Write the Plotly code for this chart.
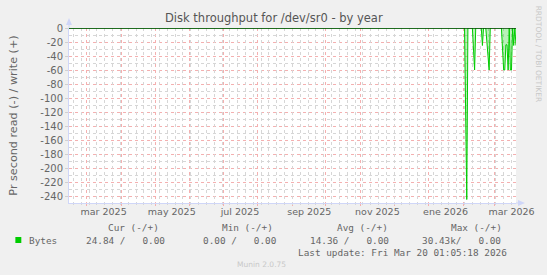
import plotly.graph_objects as go

W, H = 547, 275
L, R, T, B = 67, 517, 28, 203

x_start = "2025-02-13 01:05"
x_end = "2026-03-20 01:05"

# read (-) series, bytes per second (shown negative)
read_dates = [
    "2025-02-13", "2026-02-02", "2026-02-04", "2026-02-05",
    "2026-02-09", "2026-02-11", "2026-02-12",
    "2026-02-17", "2026-02-18", "2026-02-19",
    "2026-02-21", "2026-02-24", "2026-02-25",
    "2026-03-07", "2026-03-09", "2026-03-10", "2026-03-11", "2026-03-12",
    "2026-03-13", "2026-03-14", "2026-03-15", "2026-03-16", "2026-03-17",
    "2026-03-18", "2026-03-19", "2026-03-20 01:05",
]
read_values = [
    0, 0, -245, 0,
    0, -60, 0,
    0, -25, 0,
    0, -60, 0,
    0, -60, -60, -24, -24,
    -60, 0, -60, -60, 0,
    -25, 0, -25,
]
# write (+) series
write_dates = ["2025-02-13 01:05", "2026-03-20 01:05"]
write_values = [0, 0]

ytick_vals = [0, -20, -40, -60, -80, -100, -120, -140, -160, -180, -200, -220, -240]
ytick_text = [str(v) for v in ytick_vals]
xlabel_dates = ["2025-03-16", "2025-05-16", "2025-07-16", "2025-09-16",
                "2025-11-16", "2026-01-16", "2026-03-16"]
xlabel_text = ["mar 2025", "may 2025", "jul 2025", "sep 2025",
               "nov 2025", "ene 2026", "mar 2026"]

legend_headers = ["Cur (-/+)", "Min (-/+)", "Avg (-/+)", "Max (-/+)"]
legend_values = ["24.84 /   0.00", "0.00 /   0.00", "14.36 /   0.00", "30.43k/   0.00"]
series_name = "Bytes"
last_update = "Last update: Fri Mar 20 01:05:18 2026"

GREEN = "#00CC00"
FONT = "#666666"
AXIS = "#CFD6F8"
MGRID = "#F4B0B0"
GRID = "#D6D6D6"
SANS = "DejaVu Sans"
MONO = "DejaVu Sans Mono"


def px(x):
    return (x - L) / (R - L)


def py(y):
    return (B - y) / (B - T)


fig = go.Figure()
fig.add_trace(go.Scatter(
    x=read_dates, y=read_values, mode="lines",
    line=dict(color=GREEN, width=1), fill="tozeroy",
    fillcolor="rgba(0,204,0,0.28)", hoverinfo="skip", showlegend=False))
fig.add_trace(go.Scatter(
    x=write_dates, y=write_values, mode="lines",
    line=dict(color=GREEN, width=1), hoverinfo="skip", showlegend=False))
# dummy trace for weekly grid axis
fig.add_trace(go.Scatter(x=[x_start, x_end], y=[None, None], xaxis="x2",
                         mode="lines", showlegend=False, hoverinfo="skip"))

fig.update_layout(
    width=W, height=H,
    margin=dict(l=L, r=W - R, t=T, b=H - B, pad=0),
    paper_bgcolor="#F0F0F0", plot_bgcolor="#FFFFFF",
    font=dict(family=SANS, color=FONT, size=9.5),
    xaxis=dict(
        type="date", range=[x_start, x_end],
        tickmode="array", tickvals=xlabel_dates, ticktext=xlabel_text,
        showgrid=False, ticks="", tickfont=dict(size=9.5, color=FONT),
        showline=True, linecolor=AXIS, linewidth=1, zeroline=False,
        minor=dict(dtick="M1", tick0="2025-03-01", showgrid=True,
                   gridcolor=MGRID, griddash="dot",
                   gridwidth=1, ticks="outside", ticklen=2,
                   tickcolor=MGRID),
    ),
    xaxis2=dict(
        type="date", range=[x_start, x_end], overlaying="x", anchor="y",
        dtick=7 * 86400000, tick0="2025-02-17",
        showgrid=True, gridcolor=GRID, griddash="dot", gridwidth=1,
        showticklabels=False, ticks="outside", ticklen=1, tickcolor=GRID,
        zeroline=False, showline=False,
    ),
    yaxis=dict(
        range=[-250, 0], tickmode="array", tickvals=ytick_vals, ticktext=ytick_text,
        showgrid=True, gridcolor=MGRID, griddash="dot", gridwidth=1,
        ticks="outside", ticklen=3, tickcolor="#D0D0D0",
        tickfont=dict(size=10, color=FONT),
        showline=True, linecolor=AXIS, linewidth=1, zeroline=False,
        minor=dict(dtick=10, tick0=0, showgrid=True, gridcolor=GRID,
                   griddash="dot", gridwidth=1),
        title=dict(text="Pr second read (-) / write (+)",
                   font=dict(size=11.2, color=FONT), standoff=20),
    ),
)

shapes = [
    # zero rule
    dict(type="line", xref="x domain", yref="y", x0=0, x1=1, y0=0, y1=0,
         line=dict(color="#000000", width=1), layer="above"),
    # axis extensions and arrows
    dict(type="line", xref="paper", yref="paper", x0=0, x1=0, y0=1, y1=py(22),
         line=dict(color=AXIS, width=1)),
    dict(type="path", xref="paper", yref="paper",
         path=f"M {px(64)},{py(25)} L {px(70)},{py(25)} L {px(67)},{py(18)} Z",
         fillcolor=AXIS, line=dict(color=AXIS, width=0)),
    dict(type="line", xref="paper", yref="paper", x0=1, x1=px(521), y0=0, y1=0,
         line=dict(color=AXIS, width=1)),
    dict(type="path", xref="paper", yref="paper",
         path=f"M {px(519)},{py(200)} L {px(519)},{py(206)} L {px(526)},{py(203)} Z",
         fillcolor=AXIS, line=dict(color=AXIS, width=0)),
    # legend colour box
    dict(type="rect", xref="paper", yref="paper",
         x0=px(13), x1=px(19), y0=py(243), y1=py(237),
         fillcolor=GREEN, line=dict(width=0)),
]
fig.update_layout(shapes=shapes)

ann = []
ann.append(dict(text="Disk throughput for /dev/sr0 - by year", x=px(273), y=py(18),
                xanchor="center", yanchor="middle",
                font=dict(family=SANS, size=11.5, color="#555555")))
ann.append(dict(text="RRDTOOL / TOBI OETIKER", x=px(540), y=py(4), textangle=90,
                xanchor="center", yanchor="top",
                font=dict(family=SANS, size=7.5, color="#C8C8C8")))
header_centers = [131.5, 246.5, 362, 477]
for t, cx in zip(legend_headers, header_centers):
    ann.append(dict(text=t.replace(" ", "\u00a0"), x=px(cx), y=py(227),
                    xanchor="center", yanchor="middle",
                    font=dict(family=MONO, size=9.4, color=FONT)))
ann.append(dict(text=series_name, x=px(25), y=py(240), xanchor="left", yanchor="middle",
                font=dict(family=MONO, size=9.4, color=FONT)))
value_rights = [166, 278.5, 391, 503.5]
for t, rx in zip(legend_values, value_rights):
    ann.append(dict(text=t.replace(" ", "\u00a0"), x=px(rx), y=py(240),
                    xanchor="right", yanchor="middle",
                    font=dict(family=MONO, size=9.4, color=FONT)))
ann.append(dict(text=last_update.replace(" ", "\u00a0"), x=px(509.5), y=py(252),
                xanchor="right", yanchor="middle",
                font=dict(family=MONO, size=9.4, color=FONT)))
ann.append(dict(text="Munin 2.0.75", x=px(260.5), y=py(264), xanchor="center",
                yanchor="middle", font=dict(family=SANS, size=7.5, color="#C8C8C8")))
for a in ann:
    a.update(xref="paper", yref="paper", showarrow=False)
fig.update_layout(annotations=ann)

fig.write_html("out.html")
